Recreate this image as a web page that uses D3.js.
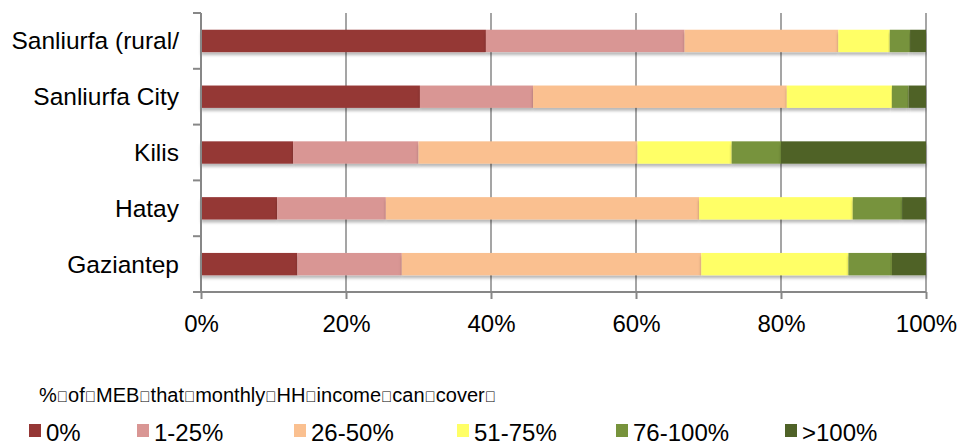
<!DOCTYPE html>
<html>
<head>
<meta charset="utf-8">
<script src="https://cdn.jsdelivr.net/npm/d3@7"></script>
<style>
  body { margin: 0; background: #fff; }
  #vis { width: 959px; height: 445px; }
  text { font-family: Arial, "Liberation Sans", sans-serif; fill: #000; }
</style>
</head>
<body>
<div id="vis"></div>
<script>
// chart data
var regions = ['Sanliurfa (rural/', 'Sanliurfa City', 'Kilis', 'Hatay', 'Gaziantep'];
var bands = ['0%', '1-25%', '26-50%', '51-75%', '76-100%', '>100%'];
var band_colours = ['#953735', '#D99694', '#FAC090', '#FFFF66', '#77933C', '#4F6228'];

var v_0 =      [39.3, 30.2, 12.7, 10.5, 13.3];
var v_1_25 =   [27.4, 15.6, 17.3, 15.0, 14.4];
var v_26_50 =  [21.2, 35.0, 30.2, 43.2, 41.3];
var v_51_75 =  [7.1, 14.5, 13.0, 21.2, 20.3];
var v_76_100 = [2.8, 2.3, 6.8, 6.8, 6.0];
var v_100 =    [2.2, 2.4, 20.0, 3.3, 4.7];

var x_ticks = [0, 20, 40, 60, 80, 100];
// the source text has unrenderable glyphs where the spaces should be
var legend_title = '%\uF020of\uF020MEB\uF020that\uF020monthly\uF020HH\uF020income\uF020can\uF020cover\uF020';

var series_values = [v_0, v_1_25, v_26_50, v_51_75, v_76_100, v_100];

var rows = regions.map(function(r, i) {
  var row = { region: r };
  bands.forEach(function(b, j) {
    row[b] = series_values[j][i];
  });
  return row;
});

var width = 959, height = 445;
var margin = { top: 13, left: 201, right: 33, bottom: 153 };
var inner_w = width - margin.left - margin.right;
var inner_h = height - margin.top - margin.bottom;

var svg = d3.select('#vis')
  .append('svg')
  .attr('width', width)
  .attr('height', height);

var defs = svg.append('defs');
var shadow = defs.append('filter')
  .attr('id', 'shadow')
  .attr('x', '-5%').attr('y', '-20%')
  .attr('width', '110%').attr('height', '160%');
shadow.append('feDropShadow')
  .attr('dx', 0).attr('dy', 3)
  .attr('stdDeviation', 1.6)
  .attr('flood-color', '#000')
  .attr('flood-opacity', 0.28);

var g = svg.append('g')
  .attr('transform', 'translate(' + margin.left + ',' + margin.top + ')');

var x_scale = d3.scaleLinear()
  .domain([0, 100])
  .range([0, inner_w]);

var y_scale = d3.scaleBand()
  .domain(regions)
  .range([0, inner_h])
  .paddingInner(0.6)
  .paddingOuter(0.3);

var colour_scale = d3.scaleOrdinal()
  .domain(bands)
  .range(band_colours);

// gridlines
g.append('g')
  .selectAll('line')
  .data(x_ticks.slice(1))
  .enter()
  .append('line')
  .attr('x1', function(d) { return x_scale(d); })
  .attr('x2', function(d) { return x_scale(d); })
  .attr('y1', 0)
  .attr('y2', inner_h)
  .attr('stroke', '#878787')
  .attr('stroke-width', 1.5);

var stack = d3.stack().keys(bands);
var stacked = stack(rows);

var bar_groups = g.selectAll('.series')
  .data(stacked)
  .enter()
  .append('g')
  .attr('class', 'series')
  .attr('fill', function(d) { return colour_scale(d.key); });

bar_groups.selectAll('rect')
  .data(function(d) { return d; })
  .enter()
  .append('rect')
  .attr('x', function(d) { return x_scale(d[0]); })
  .attr('width', function(d) { return x_scale(d[1]) - x_scale(d[0]); })
  .attr('y', function(d) { return y_scale(d.data.region); })
  .attr('height', y_scale.bandwidth())
  .attr('filter', 'url(#shadow)');

// y axis: line plus ticks between categories
var y_axis = g.append('g').attr('class', 'y axis');
y_axis.append('line')
  .attr('x1', 0).attr('x2', 0)
  .attr('y1', 0).attr('y2', inner_h)
  .attr('stroke', '#878787')
  .attr('stroke-width', 2);

var step = y_scale.step();
var y_edges = d3.range(regions.length).map(function(i) {
  return y_scale(regions[i]) - step * y_scale.paddingInner() / 2;
});
y_axis.selectAll('.tick')
  .data(y_edges.concat([inner_h]))
  .enter()
  .append('line')
  .attr('class', 'tick')
  .attr('x1', -8).attr('x2', 0)
  .attr('y1', function(d, i) { return i == 0 ? 0 : d; })
  .attr('y2', function(d, i) { return i == 0 ? 0 : d; })
  .attr('stroke', '#878787')
  .attr('stroke-width', 2);

y_axis.selectAll('.label')
  .data(regions)
  .enter()
  .append('text')
  .attr('class', 'label')
  .attr('x', -22)
  .attr('y', function(d) { return y_scale(d) + y_scale.bandwidth() / 2; })
  .attr('dy', '0.35em')
  .attr('text-anchor', 'end')
  .style('font-size', '24.5px')
  .text(function(d) { return d; });

// x axis
var x_axis = d3.axisBottom(x_scale)
  .tickValues(x_ticks)
  .tickSize(7)
  .tickPadding(16)
  .tickFormat(function(d) { return d + '%'; });

var xa = g.append('g')
  .attr('class', 'x axis')
  .attr('transform', 'translate(0,' + inner_h + ')')
  .call(x_axis);

xa.select('.domain')
  .attr('d', 'M-8,0H' + inner_w)
  .attr('stroke', '#878787')
  .attr('stroke-width', 2);
xa.selectAll('.tick line')
  .attr('stroke', '#878787')
  .attr('stroke-width', 2);
xa.selectAll('.tick text')
  .style('font-size', '24px')
  .style('font-family', 'Arial, "Liberation Sans", sans-serif')
  .attr('fill', '#000');

// legend title: words at full size, the odd separator glyphs smaller
var title = svg.append('text')
  .attr('x', 39)
  .attr('y', 402)
  .style('font-size', '20px');

legend_title.split(/(\uF020)/).forEach(function(part) {
  if (part == '') return;
  title.append('tspan')
    .style('font-size', part == '\uF020' ? '15px' : '20px')
    .text(part);
});

var legend_x = [29, 137, 294, 457, 616, 785];

var legend = svg.selectAll('.legend')
  .data(bands)
  .enter()
  .append('g')
  .attr('class', 'legend')
  .attr('transform', function(d, i) { return 'translate(' + legend_x[i] + ',424)'; });

legend.append('rect')
  .attr('width', 12)
  .attr('height', 13)
  .attr('fill', function(d) { return colour_scale(d); });

legend.append('text')
  .attr('x', 17)
  .attr('y', 17)
  .style('font-size', '24px')
  .text(function(d) { return d; });
</script>
</body>
</html>
